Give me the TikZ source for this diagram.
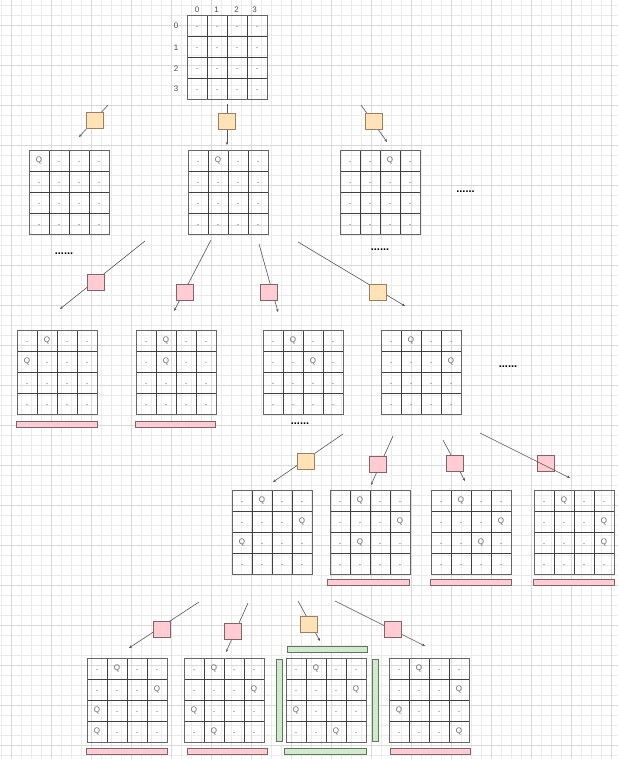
\documentclass[tikz,border=0pt]{standalone}
\usepackage{fontspec}
\setmainfont{Liberation Sans}
\usetikzlibrary{arrows.meta}
\definecolor{gminor}{HTML}{EBEBEB}
\definecolor{gmajor}{HTML}{D9D9D9}
\definecolor{orfill}{HTML}{FFE2B6}
\definecolor{ordraw}{HTML}{9A8060}
\definecolor{pkfill}{HTML}{FFCCD3}
\definecolor{pkdraw}{HTML}{806468}
\definecolor{grfill}{HTML}{D2E8CF}
\definecolor{grdraw}{HTML}{5F7A5A}
\definecolor{edgec}{HTML}{555555}
\definecolor{qcol}{HTML}{666666}
\tikzset{
  boardbox/.style={rectangle,minimum width=80pt,minimum height=84pt,inner sep=0pt,draw=none},
  cellline/.style={draw=black!75,line width=0.6pt},
  outerline/.style={draw=black!60,line width=0.8pt},
  queen/.style={font=\fontsize{8}{8}\selectfont,text=qcol,inner sep=0pt},
  axislab/.style={font=\fontsize{8}{8}\selectfont,text=black!70,inner sep=0pt},
  obox/.style={rectangle,minimum width=17pt,minimum height=16pt,inner sep=0pt,fill=orfill,draw=ordraw,line width=0.6pt},
  pbox/.style={rectangle,minimum width=17pt,minimum height=16pt,inner sep=0pt,fill=pkfill,draw=pkdraw,line width=0.6pt},
  pbar/.style={rectangle,inner sep=0pt,fill=pkfill,draw=pkdraw,line width=0.6pt},
  gbar/.style={rectangle,inner sep=0pt,fill=grfill,draw=grdraw,line width=0.6pt},
  conn/.style={draw=edgec,line width=0.6pt,-{Stealth[length=3pt,width=2.6pt]}},
  moredots/.style={font=\fontsize{11}{11}\selectfont\bfseries,inner sep=0pt}
}
\newcommand\qboard[7]{%
  \node[boardbox] (#1) at (#2+40,#3+42) {};
  \foreach \r/\q in {0/#4,1/#5,2/#6,3/#7} {
    \foreach \c in {0,...,3} {
      \ifnum\c=\q\relax
        \node[queen] at (#2+\c*20+10,#3+\r*21+10.5) {Q};
      \else
        \fill[black!55] (#2+\c*20+10,#3+\r*21+11.5) circle (0.55pt);
      \fi
    }
  }
  \foreach \i in {1,2,3} {
    \draw[cellline] (#2+\i*20,#3) -- (#2+\i*20,#3+84);
    \draw[cellline] (#2,#3+\i*21) -- (#2+80,#3+\i*21);
  }
  \draw[outerline] (#2,#3) rectangle (#2+80,#3+84);
}
\begin{document}
\begin{tikzpicture}[x=1pt,y=-1pt]
\useasboundingbox (0,0) rectangle (618,759);
\fill[white] (0,0) rectangle (618,759);
% background grid
\foreach \k in {0,...,61} { \draw[gminor,line width=0.7pt] (1.7+\k*10,0) -- (1.7+\k*10,759); }
\foreach \k in {0,...,75} { \draw[gminor,line width=0.7pt] (0,5+\k*10) -- (618,5+\k*10); }
\foreach \k in {0,...,15} { \draw[gmajor,line width=0.7pt] (11.7+\k*40,0) -- (11.7+\k*40,759); }
\foreach \k in {0,...,18} { \draw[gmajor,line width=0.7pt] (0,25+\k*40) -- (618,25+\k*40); }

% root board with axis labels
\qboard{root}{187}{15}{-1}{-1}{-1}{-1}
\node[axislab] (c0) at (197,10) {0};
\node[axislab] (c1) at (216.5,10) {1};
\node[axislab] (c2) at (236.5,10) {2};
\node[axislab] (c3) at (254.5,10) {3};
\node[axislab] (r0) at (176,26) {0};
\node[axislab] (r1) at (176,47.5) {1};
\node[axislab] (r2) at (176,69) {2};
\node[axislab] (r3) at (176,88.5) {3};

% level 1
\qboard{la}{29}{150}{0}{-1}{-1}{-1}
\qboard{lb}{188}{150}{1}{-1}{-1}{-1}
\qboard{lc}{340}{150}{2}{-1}{-1}{-1}
% level 2
\qboard{mA}{17}{330}{1}{0}{-1}{-1}
\qboard{mB}{136}{330}{1}{1}{-1}{-1}
\qboard{mC}{263}{330}{1}{2}{-1}{-1}
\qboard{mD}{381}{330}{1}{3}{-1}{-1}
% level 3
\qboard{nE}{232}{490}{1}{3}{0}{-1}
\qboard{nF}{330}{490}{1}{3}{1}{-1}
\qboard{nG}{431}{490}{1}{3}{2}{-1}
\qboard{nH}{534}{490}{1}{3}{3}{-1}
% level 4
\qboard{pI}{87}{658}{1}{3}{0}{0}
\qboard{pJ}{184}{658}{1}{3}{0}{1}
\qboard{pK}{286}{658}{1}{3}{0}{2}
\qboard{pL}{389}{658}{1}{3}{0}{3}

% bars
\node[pbar,minimum width=81pt,minimum height=6pt] (barA) at (56.5,424) {};
\node[pbar,minimum width=80pt,minimum height=6pt] (barB) at (175,424) {};
\node[pbar,minimum width=82pt,minimum height=6pt] (barF) at (368,582) {};
\node[pbar,minimum width=81pt,minimum height=6pt] (barG) at (470.5,582) {};
\node[pbar,minimum width=81pt,minimum height=6pt] (barH) at (573.5,582) {};
\node[pbar,minimum width=81pt,minimum height=6pt] (barI) at (126.5,751) {};
\node[pbar,minimum width=80pt,minimum height=6pt] (barJ) at (227,751) {};
\node[pbar,minimum width=80pt,minimum height=6pt] (barL) at (430,751) {};
\node[gbar,minimum width=80pt,minimum height=6pt] (gtop) at (327,649) {};
\node[gbar,minimum width=82pt,minimum height=6pt] (gbot) at (325,751) {};
\node[gbar,minimum width=6pt,minimum height=82pt] (gleft) at (279,700) {};
\node[gbar,minimum width=6pt,minimum height=82pt] (gright) at (375,700) {};

% ellipses
\node[moredots] (d1) at (465.5,192) {......};
\node[moredots] (d2) at (380,250) {......};
\node[moredots] (d3) at (64,253.5) {......};
\node[moredots] (d4) at (300,424) {......};
\node[moredots] (d5) at (508,366.5) {......};

% connector end points
\coordinate (s1) at (108,105); \coordinate (t1) at (79,137);
\coordinate (s2) at (227,104); \coordinate (t2) at (227,145);
\coordinate (s3) at (361,105); \coordinate (t3) at (387,142);
\coordinate (s4) at (145,241); \coordinate (t4) at (60,309);
\coordinate (s5) at (211,240); \coordinate (t5) at (174,311);
\coordinate (s6) at (259,244); \coordinate (t6) at (278,312);
\coordinate (s7) at (298,242); \coordinate (t7) at (405,306);
\coordinate (s8) at (343,434); \coordinate (t8) at (273,482);
\coordinate (s9) at (393,436); \coordinate (t9) at (371,485);
\coordinate (s10) at (443,440); \coordinate (t10) at (465,481);
\coordinate (s11) at (480,433); \coordinate (t11) at (570,478);
\coordinate (s12) at (199,602); \coordinate (t12) at (129,648);
\coordinate (s13) at (248,603); \coordinate (t13) at (226,652);
\coordinate (s14) at (298,601); \coordinate (t14) at (320,641);
\coordinate (s15) at (335,601); \coordinate (t15) at (425,646);

\foreach \i in {1,...,10,12,13,14,15} { \draw[conn] (s\i) -- (t\i); }

% label boxes
\node[obox] (b1) at (95,120.5) {};
\node[obox] (b2) at (227,121) {};
\node[obox] (b3) at (374,121) {};
\node[pbox] (b4) at (96,282) {};
\node[pbox] (b5) at (185,292) {};
\node[pbox] (b6) at (269,292) {};
\node[obox] (b7) at (377.5,292) {};
\node[obox] (b8) at (306,461.5) {};
\node[pbox] (b9) at (377.5,464) {};
\node[pbox] (b10) at (455,463.5) {};
\node[pbox] (b11) at (545.5,463.5) {};
\node[pbox] (b12) at (162,629) {};
\node[pbox] (b13) at (233,631) {};
\node[obox] (b14) at (309,624.5) {};
\node[pbox] (b15) at (393,629) {};

\draw[conn] (s11) -- (t11);
\end{tikzpicture}
\end{document}
